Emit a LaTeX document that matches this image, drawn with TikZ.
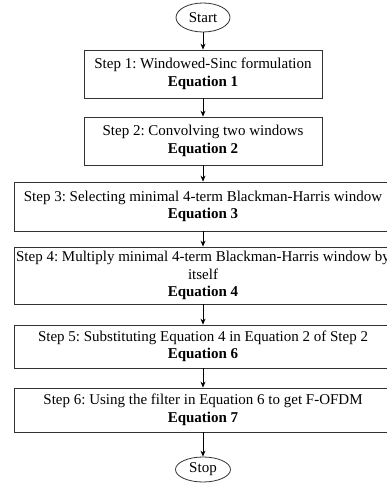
\documentclass[tikz,border=0pt]{standalone}
\usepackage{fontspec}
\setmainfont{Liberation Serif}
\usetikzlibrary{shapes.geometric,arrows.meta}
\frenchspacing
\begin{document}
\begin{tikzpicture}[x=1pt,y=-1pt,
  box/.style={draw=black!80, line width=0.8pt, rectangle, align=center, inner sep=0pt,
    font=\fontsize{15}{17.5}\selectfont},
  term/.style={draw=black!80, line width=0.8pt, ellipse, inner sep=0pt,
    font=\fontsize{15}{18}\selectfont},
  flow/.style={draw=black, line width=0.8pt, -{Stealth[length=6pt,width=5pt]}}]
\useasboundingbox (0,0) rectangle (387,486);
\node[term, minimum width=54pt, minimum height=29pt] (start) at (203,17.5) {Start};
\node[box, minimum width=238pt, minimum height=48pt] (s1) at (203,74)
  {Step 1: Windowed-Sinc formulation\\\textbf{Equation 1}};
\node[box, minimum width=238pt, minimum height=48pt] (s2) at (203,141)
  {Step 2: Convolving two windows\\\textbf{Equation 2}};
\node[box, minimum width=378pt, minimum height=49pt] (s3) at (203,206.5)
  {Step 3: Selecting minimal 4-term Blackman-Harris window\\\textbf{Equation 3}};
\node[box, minimum width=378pt, minimum height=57pt] (s4) at (203,275.5)
  {Step 4: Multiply minimal 4-term Blackman-Harris window by\\itself\\\textbf{Equation 4}};
\node[box, minimum width=378pt, minimum height=43pt] (s5) at (203,346.5)
  {Step 5: Substituting Equation 4 in Equation 2 of Step 2\\\textbf{Equation 6}};
\node[box, minimum width=378pt, minimum height=44pt] (s6) at (203,410)
  {Step 6: Using the filter in Equation 6 to get F-OFDM\\\textbf{Equation 7}};
\node[term, minimum width=55pt, minimum height=25pt] (stop) at (203,469.5) {Stop};
\draw[flow] (start) -- (s1);
\draw[flow] (s1) -- (s2);
\draw[flow] (s2) -- (s3);
\draw[flow] (s3) -- (s4);
\draw[flow] (s4) -- (s5);
\draw[flow] (s5) -- (s6);
\draw[flow] (s6) -- (stop);
\end{tikzpicture}
\end{document}
